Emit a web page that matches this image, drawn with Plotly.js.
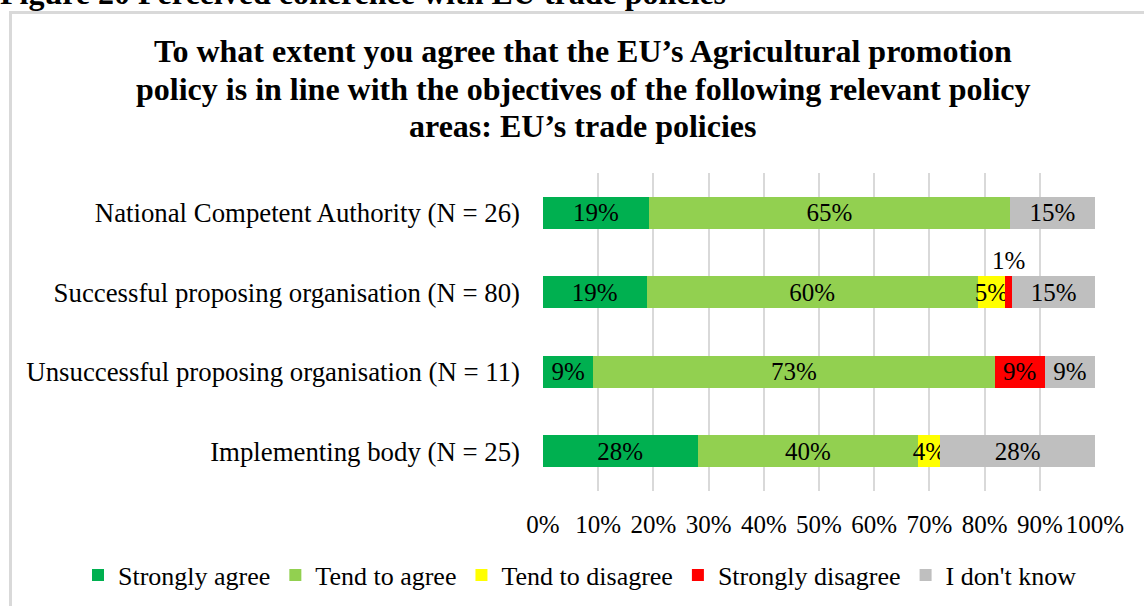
<!DOCTYPE html>
<html>
<head>
<meta charset="utf-8">
<script src="https://cdn.plot.ly/plotly-3.0.1.min.js"></script>
<style>
  html, body { margin: 0; padding: 0; background: #fff; overflow: hidden; }
  #frame { position: absolute; left: 9px; top: 11px; width: 1160px; height: 620px; border: 3px solid #d9d9d9; box-sizing: border-box; }
  #chart { position: absolute; left: 0; top: 0; width: 1144px; height: 606px; }
  #fig { position: absolute; left: 0; top: -23px; font-family: "Liberation Serif", "Times New Roman", serif; font-weight: bold; font-size: 32px; line-height: 32px; white-space: nowrap; color: #000; }
</style>
</head>
<body>
<div id="frame"></div>
<div id="fig">Figure 20 Perceived coherence with EU trade policies</div>
<div id="chart"></div>
<script>
// Categories (top to bottom)
const categories = [
  "National Competent Authority (N = 26)",
  "Successful proposing organisation (N = 80)",
  "Unsuccessful proposing organisation (N = 11)",
  "Implementing body (N = 25)"
];
// Series values (% of respondents)
const stronglyAgree    = [19.2, 18.75, 9.1, 28];
const tendToAgree      = [65.4, 60, 72.7, 40];
const tendToDisagree   = [0, 5, 0, 4];
const stronglyDisagree = [0, 1.25, 9.1, 0];
const dontKnow         = [15.4, 15, 9.1, 28];

const seriesNames  = ["Strongly agree", "Tend to agree", "Tend to disagree", "Strongly disagree", "I don't know"];
const seriesValues = [stronglyAgree, tendToAgree, tendToDisagree, stronglyDisagree, dontKnow];
const seriesColors = ["#00B050", "#92D050", "#FFFF00", "#FF0000", "#BFBFBF"];
const xTickVals = [0, 10, 20, 30, 40, 50, 60, 70, 80, 90, 100];
const xTickText = ["0%", "10%", "20%", "30%", "40%", "50%", "60%", "70%", "80%", "90%", "100%"];
const titleLines = [
  "To what extent you agree that the EU’s Agricultural promotion",
  "policy is in line with the objectives of the following relevant policy",
  "areas: EU’s trade policies"
];

const FONT = "Liberation Serif, Times New Roman, serif";
const SMALL = 3; // values below this get their label above the bar

// plot area in pixels (for placing paper-referenced text)
const PLOT_L = 543, PLOT_R = 1095, PLOT_T = 173, PLOT_B = 491;
const W = 1144, H = 606;
const px2x = px => (px - PLOT_L) / (PLOT_R - PLOT_L);
const py2y = py => (PLOT_B - py) / (PLOT_B - PLOT_T);

const traces = [];
const annotations = [];
const cum = categories.map(() => 0);
seriesValues.forEach((vals, si) => {
  const texts = vals.map((v, ci) => {
    if (v === 0) return "";
    if (v < SMALL) {
      annotations.push({
        x: cum[ci] + v / 2, y: categories[ci], xref: "x", yref: "y",
        text: Math.round(v) + "%", showarrow: false, yshift: 32,
        font: { family: FONT, size: 25, color: "#000" }
      });
      return "";
    }
    return Math.round(v) + "%";
  });
  vals.forEach((v, ci) => { cum[ci] += v; });
  traces.push({
    type: "bar", orientation: "h",
    name: seriesNames[si], x: vals, y: categories,
    marker: { color: seriesColors[si] },
    text: texts, textposition: "inside", insidetextanchor: "middle",
    constraintext: "none", textangle: 0,
    textfont: { family: FONT, size: 25, color: "#000" },
    hoverinfo: "name+x"
  });
});

// Chart title, three centred lines
const titleCenters = [51, 89, 126];
titleLines.forEach((t, i) => {
  annotations.push({
    text: "<b>" + t + "</b>", showarrow: false,
    xref: "paper", yref: "paper", x: px2x(583), y: py2y(titleCenters[i]),
    xanchor: "center", yanchor: "middle",
    font: { family: FONT, size: 32, color: "#000" }
  });
});

const layout = {
  width: W, height: H,
  paper_bgcolor: "rgba(0,0,0,0)", plot_bgcolor: "rgba(0,0,0,0)",
  barmode: "stack", bargap: 0.6,
  margin: { l: PLOT_L, r: W - PLOT_R, t: PLOT_T, b: H - PLOT_B, autoexpand: false },
  font: { family: FONT, size: 25, color: "#000" },
  xaxis: {
    range: [0, 100], tickvals: xTickVals, ticktext: xTickText,
    showgrid: true, gridcolor: "#d9d9d9", gridwidth: 2,
    zeroline: false, showline: false, ticks: "",
    ticklabelstandoff: 16, fixedrange: true,
    tickfont: { family: FONT, size: 25, color: "#000" }
  },
  yaxis: {
    type: "category", categoryorder: "array", categoryarray: categories,
    autorange: "reversed", showgrid: false, zeroline: false, ticks: "",
    ticklabelstandoff: 22, fixedrange: true,
    tickfont: { family: FONT, size: 26.8, color: "#000" }
  },
  legend: {
    orientation: "h", x: px2x(78), xanchor: "left",
    y: py2y(575), yanchor: "middle",
    font: { family: FONT, size: 26, color: "#000" },
    traceorder: "normal", itemwidth: 30, tracegroupgap: 0
  },
  showlegend: true,
  annotations: annotations
};

Plotly.newPlot("chart", traces, layout, { displayModeBar: false, staticPlot: true });
</script>
</body>
</html>
